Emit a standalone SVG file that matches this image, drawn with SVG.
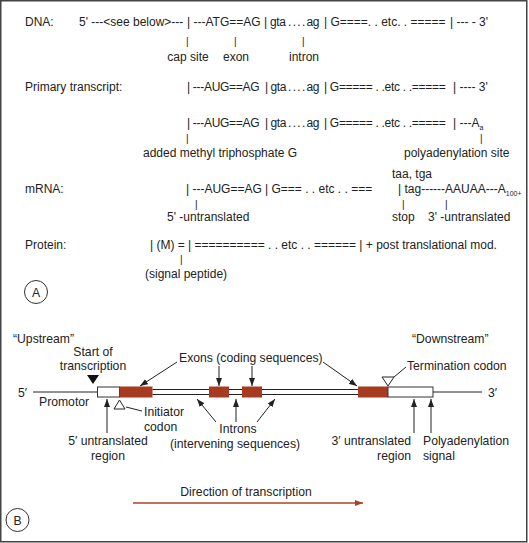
<svg xmlns="http://www.w3.org/2000/svg" width="529" height="543" viewBox="0 0 529 543">
<defs>
<style>
.t{font-family:"Liberation Sans",Arial,sans-serif;font-size:12px;fill:#222}
.b{font-family:"Liberation Sans",Arial,sans-serif;font-size:12.2px;fill:#222}
.k{font-family:"Liberation Sans",Arial,sans-serif;font-size:10px;fill:#222}
.d{letter-spacing:-1px}
.g{letter-spacing:-0.4px}
.n{letter-spacing:-0.3px}
.ln{stroke:#222;stroke-width:1;fill:none}
.ex{fill:#a63b22}
.utr{fill:#fff;stroke:#333;stroke-width:1}
</style>
<marker id="ah" viewBox="0 0 8 6" refX="8" refY="3" markerWidth="8" markerHeight="6" markerUnits="userSpaceOnUse" orient="auto">
<path d="M0,0 L8,3 L0,6 Z" fill="#222"/>
</marker>
<marker id="ahr" viewBox="0 0 8 6" refX="8" refY="3" markerWidth="8" markerHeight="6" markerUnits="userSpaceOnUse" orient="auto">
<path d="M0,0 L8,3 L0,6 Z" fill="#a8432a"/>
</marker>
</defs>
<rect x="0.75" y="0.75" width="526" height="541" fill="#fff" stroke="#444" stroke-width="1.5"/>

<g id="panelA">
<g id="dna">
<text class="t" x="25" y="26">DNA:</text>
<text class="t" y="26"><tspan x="79">5' ---&lt;see below&gt;---</tspan> <tspan x="187">| ---ATG==AG</tspan> <tspan x="264">|</tspan> <tspan x="270" class="g">gta</tspan> <tspan x="288" class="d">. . . .</tspan> <tspan x="306.5" class="g">ag</tspan> <tspan x="324">| G====. . etc. . =====</tspan> <tspan x="450">| --- - 3'</tspan></text>
<text class="k" x="186" y="45">|</text>
<text class="k" x="234" y="45">|</text>
<text class="k" x="302" y="45">|</text>
<text class="t" x="188" y="61" text-anchor="middle">cap site</text>
<text class="t" x="236" y="61" text-anchor="middle">exon</text>
<text class="t" x="304" y="61" text-anchor="middle">intron</text>
</g>
<g id="primary">
<text class="t" x="25" y="91">Primary transcript:</text>
<text class="t" y="91"><tspan x="187" class="n">| ---AUG==AG</tspan> <tspan x="265">|</tspan> <tspan x="270.5" class="g">gta</tspan> <tspan x="288" class="d">. . . .</tspan> <tspan x="306.5" class="g">ag</tspan> <tspan x="324" class="n">| G===== . .etc . .=====</tspan> <tspan x="453">| ---- 3'</tspan></text>
<text class="t" y="127"><tspan x="187" class="n">| ---AUG==AG</tspan> <tspan x="265">|</tspan> <tspan x="270.5" class="g">gta</tspan> <tspan x="288" class="d">. . . .</tspan> <tspan x="306.5" class="g">ag</tspan> <tspan x="324" class="n">| G===== . .etc . .=====</tspan> <tspan x="453">| ---A</tspan><tspan font-size="7" dy="3">a</tspan></text>
<text class="k" x="186" y="142">|</text>
<text class="k" x="480" y="142">|</text>
<text class="t" x="143" y="157">added methyl triphosphate G</text>
<text class="t" x="404" y="157">polyadenylation site</text>
</g>
<g id="mrna">
<text class="t" x="25" y="193">mRNA:</text>
<text class="t" x="392" y="178">taa, tga</text>
<text class="t" y="193"><tspan x="186">| ---AUG==AG</tspan> <tspan x="265">| G=== . . etc . . ===</tspan> <tspan x="398">| tag------AAUAA---A</tspan><tspan font-size="7" dy="3">100+</tspan></text>
<text class="k" x="195" y="208">|</text>
<text class="k" x="402" y="208">|</text>
<text class="k" x="445" y="208">|</text>
<text class="t" x="167" y="221">5' -untranslated</text>
<text class="t" x="392" y="221">stop</text>
<text class="t" x="428" y="221">3' -untranslated</text>
</g>
<g id="protein">
<text class="t" x="25" y="249">Protein:</text>
<text class="t" x="150" y="249">| (M) = | ========== . . etc . . ====== | + post translational mod.</text>
<text class="k" x="180" y="263">|</text>
<text class="t" x="145" y="278">(signal peptide)</text>
</g>
<g id="labelA">
<circle cx="36" cy="292" r="11.5" fill="none" stroke="#333" stroke-width="1"/>
<text class="b" x="36" y="297" text-anchor="middle" font-size="14">A</text>
</g>
</g>

<g id="panelB">
<g id="gene">
<line class="ln" x1="33" y1="392" x2="97" y2="392"/>
<rect class="utr" x="97.5" y="387" width="22" height="10"/>
<rect class="ex" x="119.5" y="386.5" width="33" height="11"/>
<path class="ln" d="M152.5,389.5 H209 M152.5,394.5 H209 M229,389.5 H242 M229,394.5 H242 M262,389.5 H358 M262,394.5 H358"/>
<rect class="ex" x="209" y="386.5" width="20" height="11"/>
<rect class="ex" x="242" y="386.5" width="20" height="11"/>
<rect class="ex" x="358" y="386.5" width="30" height="11"/>
<rect class="utr" x="388" y="387" width="45" height="10"/>
<line class="ln" x1="433" y1="392" x2="482" y2="392"/>
<text class="b" x="18" y="397">5′</text>
<text class="b" x="488" y="397">3′</text>
</g>
<g id="upstream"><text class="b" x="13" y="343">“Upstream”</text></g>
<g id="downstream"><text class="b" x="412" y="343">“Downstream”</text></g>
<g id="start">
<text class="b" x="93" y="356" text-anchor="middle">Start of</text>
<text class="b" x="93" y="370" text-anchor="middle">transcription</text>
<path d="M87,375 L99,375 L93,384 Z" fill="#111"/>
</g>
<g id="promotor"><text class="b" x="39" y="406">Promotor</text></g>
<g id="initiator">
<path d="M119.5,400 L125,409 L114,409 Z" fill="#fff" stroke="#222" stroke-width="1"/>
<text class="b" x="144" y="416">Initiator</text>
<text class="b" x="144" y="431">codon</text>
</g>
<g id="termination">
<path d="M382,377 L394,377 L388,386 Z" fill="#fff" stroke="#222" stroke-width="1"/>
<text class="b" x="407" y="370">Termination codon</text>
</g>
<g id="exons"><text class="b" x="179" y="362">Exons (coding sequences)</text></g>
<g id="introns">
<text class="b" x="238" y="433" text-anchor="middle">Introns</text>
<text class="b" x="235" y="448" text-anchor="middle">(intervening sequences)</text>
</g>
<g id="utr5">
<text class="b" x="108" y="445" text-anchor="middle">5′ untranslated</text>
<text class="b" x="108" y="460" text-anchor="middle">region</text>
</g>
<g id="utr3">
<text class="b" x="411" y="445" text-anchor="end">3′ untranslated</text>
<text class="b" x="411" y="460" text-anchor="end">region</text>
</g>
<g id="polya">
<text class="b" x="423" y="445">Polyadenylation</text>
<text class="b" x="423" y="460">signal</text>
</g>
<g id="direction">
<text class="b" x="246" y="496" text-anchor="middle">Direction of transcription</text>
</g>
<g id="labelB">
<circle cx="17.5" cy="520" r="11.5" fill="none" stroke="#333" stroke-width="1"/>
<text class="b" x="17.5" y="525" text-anchor="middle" font-size="14">B</text>
</g>
</g>

<g id="connectors">
<line class="ln" x1="177" y1="362" x2="140" y2="386" marker-end="url(#ah)"/>
<line class="ln" x1="219" y1="366" x2="219" y2="386" marker-end="url(#ah)"/>
<line class="ln" x1="252" y1="366" x2="252" y2="386" marker-end="url(#ah)"/>
<line class="ln" x1="323" y1="362" x2="357" y2="386" marker-end="url(#ah)"/>
<line class="ln" x1="126" y1="407" x2="142" y2="411"/>
<line class="ln" x1="394" y1="377" x2="406" y2="367"/>
<line class="ln" x1="107" y1="433" x2="107" y2="399" marker-end="url(#ah)"/>
<line class="ln" x1="216" y1="422" x2="197" y2="399" marker-end="url(#ah)"/>
<line class="ln" x1="236" y1="422" x2="236" y2="399" marker-end="url(#ah)"/>
<line class="ln" x1="257" y1="422" x2="275" y2="399" marker-end="url(#ah)"/>
<line class="ln" x1="414" y1="433" x2="414" y2="399" marker-end="url(#ah)"/>
<line class="ln" x1="431" y1="433" x2="431" y2="399" marker-end="url(#ah)"/>
<line x1="133" y1="503" x2="363" y2="503" stroke="#a8432a" stroke-width="1.5" marker-end="url(#ahr)"/>
</g>
</svg>
